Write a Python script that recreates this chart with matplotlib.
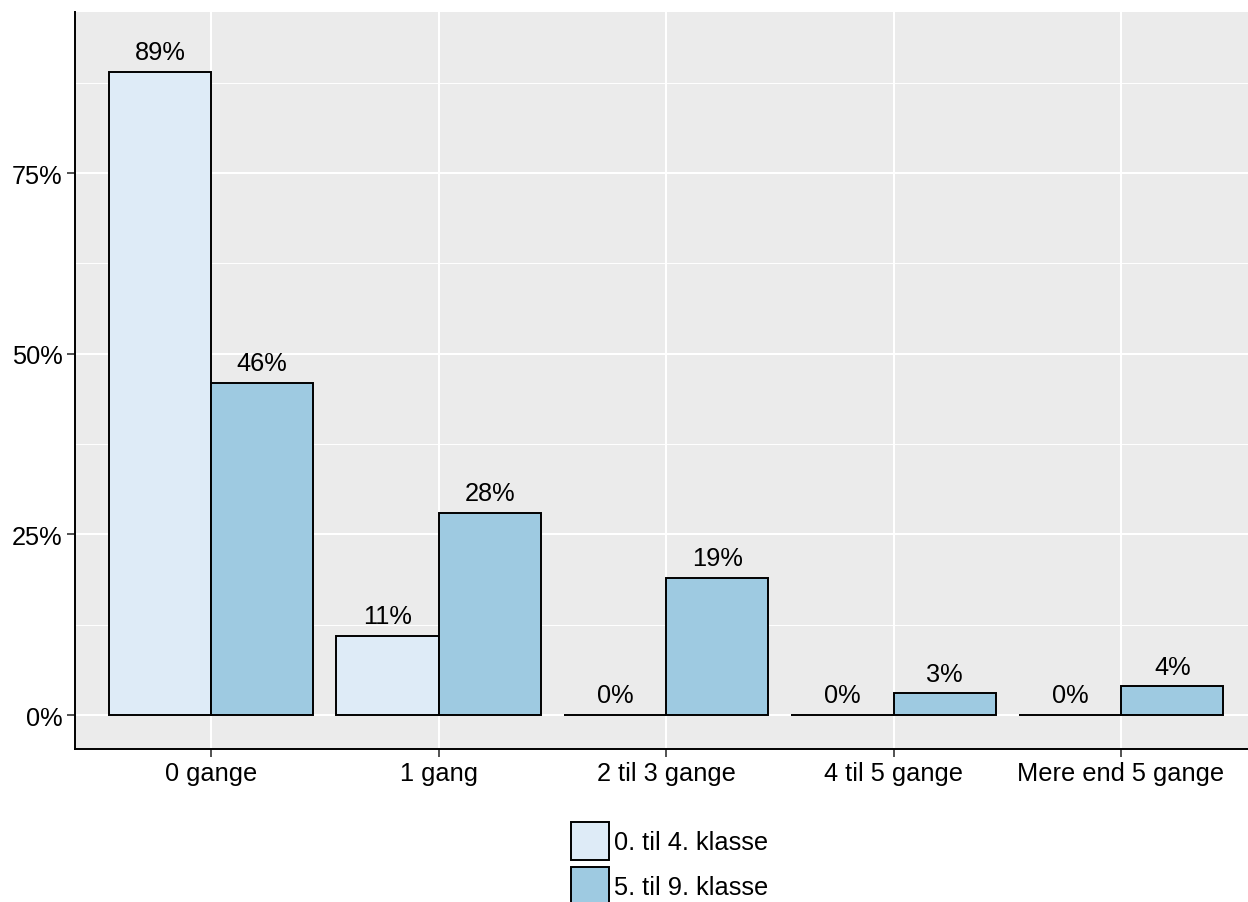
import matplotlib
matplotlib.use("Agg")
import matplotlib.pyplot as plt
from matplotlib.patches import Patch
import numpy as np

plt.rcParams['font.family'] = ['Liberation Sans', 'DejaVu Sans']

categories = ["0 gange", "1 gang", "2 til 3 gange", "4 til 5 gange", "Mere end 5 gange"]
series_names = ["0. til 4. klasse", "5. til 9. klasse"]
values_a = [89, 11, 0, 0, 0]
values_b = [46, 28, 19, 3, 4]
colors = ["#DEEBF7", "#9ECAE1"]
yticks = [0, 25, 50, 75]
ytick_labels = ["0%", "25%", "50%", "75%"]

W, H = 1248, 903
FS = 18.3
fig = plt.figure(figsize=(W / 100, H / 100), dpi=100)
ax = fig.add_axes([75 / W, 1 - 750 / H, (1248 - 75) / W, (750 - 13) / H])
ax.set_facecolor("#EBEBEB")

x = np.arange(1, len(categories) + 1)
bw = 0.45
for i, (vals, c) in enumerate([(values_a, colors[0]), (values_b, colors[1])]):
    pos = x + (i - 0.5) * bw
    ax.bar(pos, vals, width=bw, color=c, edgecolor="black", linewidth=1.4, zorder=3)
    for p, v in zip(pos, vals):
        ax.annotate(f"{v}%", (p, v), xytext=(0, 5.5), textcoords="offset points",
                    ha="center", va="bottom", fontsize=FS, color="black", zorder=4)

ax.set_xlim(0.402, 5.558)
ax.set_ylim(-4.69, 97.3)
ax.set_yticks(yticks)
ax.set_yticklabels(ytick_labels)
ax.set_yticks([12.5, 37.5, 62.5, 87.5], minor=True)
ax.set_xticks(x)
ax.set_xticklabels(categories)
ax.grid(True, which="major", color="white", linewidth=1.5, zorder=0)
ax.grid(True, which="minor", axis="y", color="white", linewidth=0.7, zorder=0)
ax.tick_params(axis="both", which="major", labelsize=FS, colors="black", length=6, width=1.2,
               color="#333333", pad=3)
ax.tick_params(axis="y", which="minor", length=0)
ax.set_axisbelow(True)
for s in ["top", "right"]:
    ax.spines[s].set_visible(False)
for s in ["left", "bottom"]:
    ax.spines[s].set_linewidth(1.4)
    ax.spines[s].set_color("black")

handles = [Patch(facecolor=colors[0], edgecolor="black", linewidth=1.4),
           Patch(facecolor=colors[1], edgecolor="black", linewidth=1.4)]
fig.legend(handles, series_names, loc="upper left", bbox_to_anchor=(571 / W, 1 - 823 / H),
           frameon=False, fontsize=FS, handlelength=1.5, handleheight=1.9,
           handletextpad=0.2, labelspacing=0.3, borderpad=0, borderaxespad=0)

fig.savefig("out.png", dpi=100)
